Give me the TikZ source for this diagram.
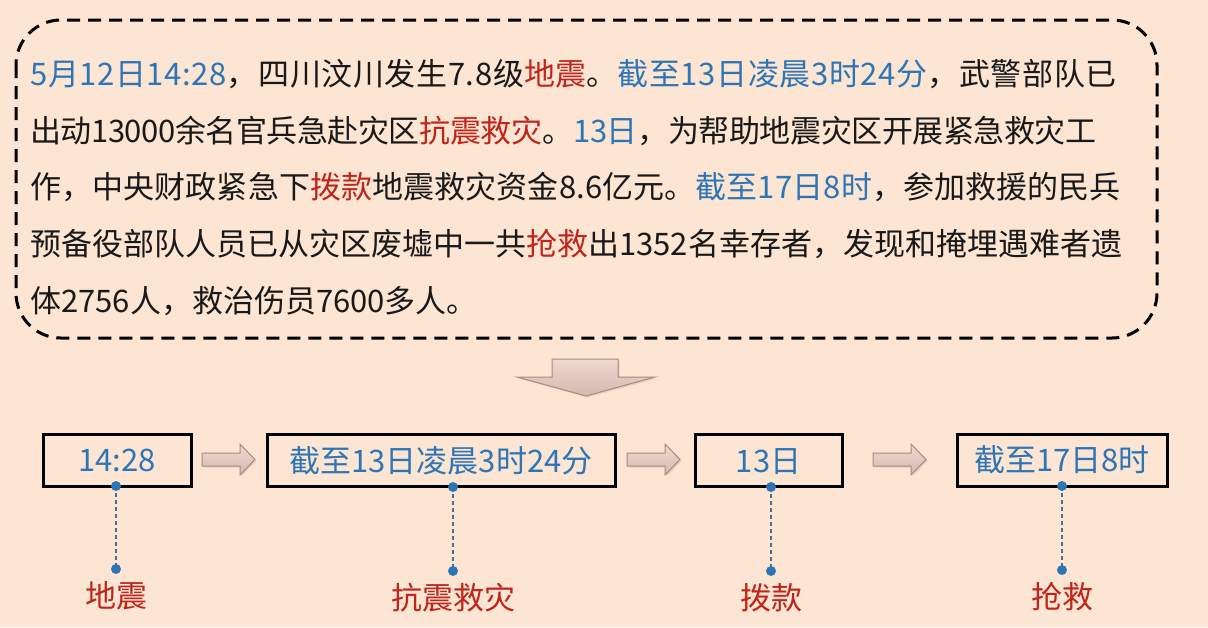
\documentclass[tikz,border=0pt]{standalone}
\usepackage{fontspec}
\setmainfont{Noto Sans CJK SC}
\usetikzlibrary{shadows}
\definecolor{bg}{RGB}{252,229,210}
\definecolor{tblue}{RGB}{46,117,182}
\definecolor{tred}{RGB}{192,36,26}
\definecolor{tblack}{RGB}{25,25,25}
\definecolor{arrtop}{RGB}{240,218,208}
\definecolor{arrbot}{RGB}{212,184,174}
\definecolor{arrline}{RGB}{168,138,128}
\definecolor{dline}{RGB}{70,110,150}
\newcommand\txtblue[1]{\textcolor{tblue}{#1}}
\newcommand\txtred[1]{\textcolor{tred}{#1}}
\tikzset{
  textline/.style={anchor=base west, inner sep=0pt, text=tblack, font=\fontsize{31}{31}\selectfont},
  tbox/.style={draw=black, line width=3pt, minimum height=52pt, inner sep=0pt, text=tblue,
    text height=26pt, text depth=3pt, font=\fontsize{31}{31}\selectfont},
  keyword/.style={inner sep=0pt, text=tred, text height=26pt, text depth=3pt, font=\fontsize{31}{31}\selectfont},
  dotmark/.style={circle, fill=tblue, inner sep=0pt, minimum size=10pt},
  linker/.style={draw=dline, line width=1.3pt, dash pattern=on 4pt off 3pt},
  blockarrow/.style={draw=arrline, line width=1pt, top color=arrtop, bottom color=arrbot,
    drop shadow={opacity=0.2, shadow xshift=1.5pt, shadow yshift=-1.5pt}},
  framebox/.style={draw=black, line width=3pt, dash pattern=on 13pt off 8pt, rounded corners=45pt}
}
\begin{document}
\begin{tikzpicture}[x=1pt,y=-1pt]
\fill[bg] (0,0) rectangle (1208,627);
\useasboundingbox (0,0) rectangle (1208,627);

% dashed frame with text
\draw[framebox] (16,20) rectangle (1157,338);
\node[textline] (l1) at (30,85) {\addfontfeature{LetterSpace=2}\txtblue{5月12日14:28}，四川汶川发生7.8级\txtred{地震}。\txtblue{截至13日凌晨3时24分}，武警部队已};
\node[textline] (l2) at (30,142) {\addfontfeature{LetterSpace=-1.5}出动13000余名官兵急赴灾区\txtred{抗震救灾}。\txtblue{13日}，为帮助地震灾区开展紧急救灾工};
\node[textline] (l3) at (30,198) {\addfontfeature{LetterSpace=0.4}作，中央财政紧急下\txtred{拨款}地震救灾资金8.6亿元。\txtblue{截至17日8时}，参加救援的民兵};
\node[textline] (l4) at (30,255) {预备役部队人员已从灾区废墟中一共\txtred{抢救}出1352名幸存者，发现和掩埋遇难者遗};
\node[textline] (l5) at (30,312) {体2756人，救治伤员7600多人。};

% big down arrow
\path[blockarrow] (552,359) -- (618,359) -- (618,377) -- (655,377) -- (586,396) -- (517,377) -- (552,377) -- cycle;

% timeline boxes
\node[tbox, minimum width=148pt] (b1) at (117,460) {14:28};
\node[tbox, minimum width=348pt] (b2) at (441,460.5) {截至13日凌晨3时24分};
\node[tbox, minimum width=147pt] (b3) at (768.5,460.5) {13日};
\node[tbox, minimum width=210pt] (b4) at (1062,460) {截至17日8时};

% small block arrows
\foreach \x in {202,627,873}{
  \path[blockarrow] (\x,453) -- (\x+38,453) -- (\x+38,444) -- (\x+53,459.5) -- (\x+38,475) -- (\x+38,466) -- (\x,466) -- cycle;
}

% dots, dashed links, keywords
\coordinate (t1) at (116,486);   \coordinate (u1) at (116,569);
\coordinate (t2) at (453,487);   \coordinate (u2) at (453,571);
\coordinate (t3) at (771,487);   \coordinate (u3) at (771,571);
\coordinate (t4) at (1062,486);  \coordinate (u4) at (1062,570);
\foreach \i in {1,2,3,4}{
  \draw[linker] (t\i) -- (u\i);
  \node[dotmark] at (t\i) {};
  \node[dotmark] at (u\i) {};
}
\node[keyword] (k1) at (116,596) {地震};
\node[keyword] (k2) at (453,598) {抗震救灾};
\node[keyword] (k3) at (771,598) {拨款};
\node[keyword] (k4) at (1062,597) {抢救};
\end{tikzpicture}
\end{document}
